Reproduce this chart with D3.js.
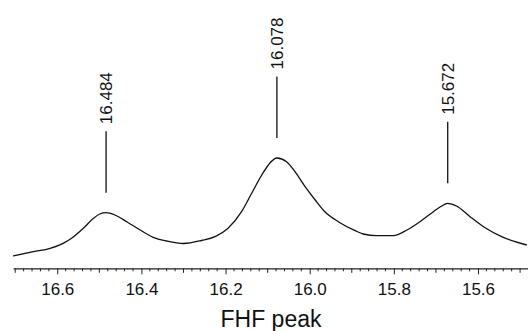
<!DOCTYPE html>
<html>
<head>
<meta charset="utf-8">
<script src="https://cdn.jsdelivr.net/npm/d3@7/dist/d3.min.js"></script>
<style>
  html, body { margin: 0; padding: 0; background: #fff; }
  svg { display: block; font-family: "Liberation Sans", Arial, sans-serif; }
</style>
</head>
<body>
<svg id="chart" width="528" height="331"></svg>
<script>
// Spectrum trace (ppm, relative intensity)
const ppm = [16.705, 16.657, 16.617, 16.586, 16.566, 16.538, 16.514, 16.499, 16.484, 16.463,
             16.435, 16.403, 16.372, 16.340, 16.300, 16.257, 16.225, 16.194, 16.162,
             16.138, 16.114, 16.094, 16.078, 16.055, 16.035, 16.011, 15.987, 15.964, 15.932,
             15.892, 15.873, 15.841, 15.801, 15.769, 15.738, 15.706, 15.682, 15.672, 15.651,
             15.619, 15.587, 15.540, 15.484];
const intensity = [2, 6.3, 9.7, 14.7, 19.7, 29.7, 39.7, 44, 45.3, 43,
                   36.3, 28, 20.7, 17, 14.5, 17.5, 21.3, 29.7, 46.3,
                   64.7, 83, 95.3, 100, 96.3, 86.3, 71.3, 58, 46.3, 36.3,
                   27.3, 24, 22.3, 22.3, 28, 36.3, 46.3, 53, 54.7, 52,
                   41.3, 31.3, 20.7, 13];
// Peak picks
const peakPpm = [16.484, 16.078, 15.672];
const peakIntensity = [45.3, 100, 54.7];
const peakLabels = ["16.484", "16.078", "15.672"];
// Axis
const majorTicks = [16.6, 16.4, 16.2, 16.0, 15.8, 15.6];
const tickLabels = ["16.6", "16.4", "16.2", "16.0", "15.8", "15.6"];
const axisTitle = "FHF peak";

const svg = d3.select("#chart");
const axisY = 268.3;

const x = d3.scaleLinear().domain([16.705, 15.48]).range([13.1, 528.5]);
const y = d3.scaleLinear().domain([0, 100]).range([258, 158]);

// Curve
const pts = ppm.map((p, i) => [p, intensity[i]]);
svg.append("path")
  .datum(pts)
  .attr("fill", "none")
  .attr("stroke", "#111")
  .attr("stroke-width", 1.3)
  .attr("d", d3.line().x(d => x(d[0])).y(d => y(d[1])).curve(d3.curveMonotoneX));

// Minor / medium ticks
const minor = d3.range(0, 62).map(i => +(16.70 - i * 0.02).toFixed(2)).filter(v => v >= 15.48);
const g = svg.append("g").attr("transform", `translate(0,${axisY})`);
g.selectAll("line.minor")
  .data(minor)
  .enter().append("line")
  .attr("x1", d => x(d)).attr("x2", d => x(d))
  .attr("y1", 0)
  .attr("y2", d => {
    const t = Math.round(d * 100);
    if (t % 20 === 0) return 0; // majors drawn by axis
    if (t % 10 === 0) return 4.5;
    return 3;
  })
  .attr("stroke", "#222").attr("stroke-width", 1);

// Major axis
const axis = d3.axisBottom(x)
  .tickValues(majorTicks)
  .tickFormat((d, i) => tickLabels[i])
  .tickSize(6)
  .tickSizeOuter(0);
const ag = g.append("g").call(axis);
ag.select(".domain").attr("stroke", "#222").attr("stroke-width", 1.3);
ag.selectAll(".tick line").attr("stroke", "#222").attr("stroke-width", 1);
ag.selectAll(".tick text")
  .attr("y", 15)
  .attr("font-size", 17)
  .attr("font-family", "Liberation Sans, Arial, sans-serif")
  .attr("fill", "#111");

// Axis title
svg.append("text")
  .attr("x", 271)
  .attr("y", 327)
  .attr("text-anchor", "middle")
  .attr("font-size", 23)
  .attr("fill", "#111")
  .text(axisTitle);

// Peak markers
const gap = 20, len = 61.5, textGap = 7;
peakPpm.forEach((p, i) => {
  const px = x(p), py = y(peakIntensity[i]);
  svg.append("line")
    .attr("x1", px).attr("x2", px)
    .attr("y1", py - gap).attr("y2", py - gap - len)
    .attr("stroke", "#111").attr("stroke-width", 1.3);
  svg.append("text")
    .attr("transform", `translate(${px},${py - gap - len - textGap}) rotate(-90)`)
    .attr("y", 6)
    .attr("font-size", 17)
    .attr("fill", "#111")
    .text(peakLabels[i]);
});
</script>
</body>
</html>
